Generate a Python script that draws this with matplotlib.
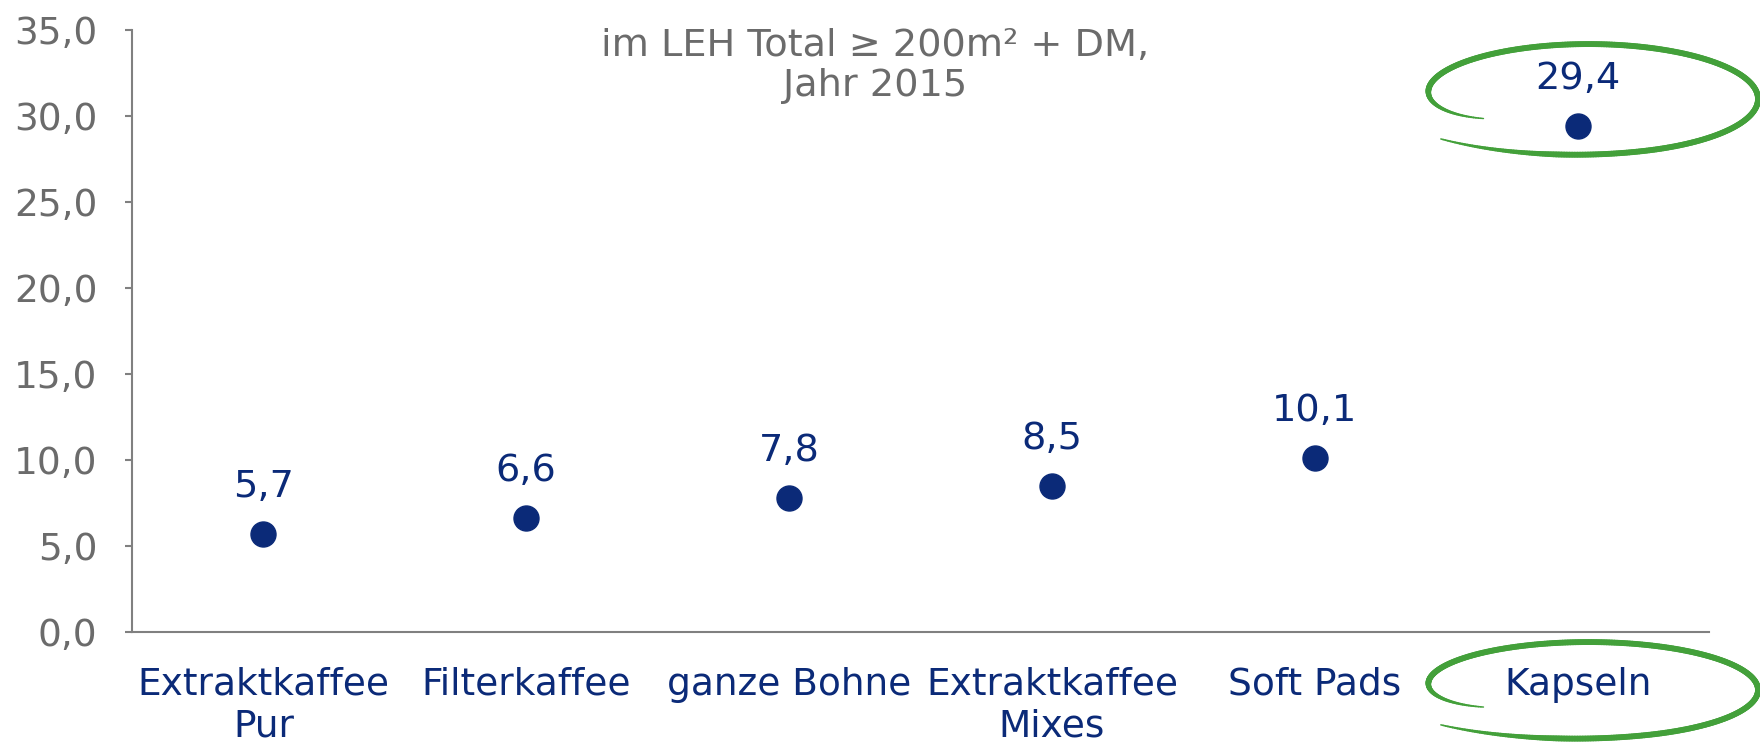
import matplotlib
matplotlib.use('Agg')
import matplotlib.pyplot as plt
import numpy as np
from matplotlib.collections import LineCollection

kategorien = ['Extraktkaffee\nPur', 'Filterkaffee', 'ganze Bohne', 'Extraktkaffee\nMixes', 'Soft Pads', 'Kapseln']
werte = [5.7, 6.6, 7.8, 8.5, 10.1, 29.4]
y_ticks = [0, 5, 10, 15, 20, 25, 30, 35]
untertitel = 'im LEH Total \u2265 200m\u00b2 + DM,\nJahr 2015'

navy = '#0b2a78'
grau = '#6b6b6b'
gruen = '#43a03a'

W, H = 1760, 743
fig = plt.figure(figsize=(W / 100, H / 100), dpi=100)
ax = fig.add_axes([132 / W, 1 - 632 / H, (1709 - 132) / W, (632 - 30) / H])

x = np.arange(len(kategorien))
ax.plot(x, werte, 'o', color=navy, markersize=18, zorder=3)
for xi, v in zip(x, werte):
    ax.annotate(('%.1f' % v).replace('.', ','), (xi, v), xytext=(0, 34),
                textcoords='offset points', ha='center', va='center',
                fontsize=27.5, color=navy)

ax.set_xlim(-0.5, len(kategorien) - 0.5)
ax.set_ylim(0, 35)
ax.set_yticks(y_ticks)
ax.set_yticklabels([('%.1f' % t).replace('.', ',') for t in y_ticks], fontsize=27, color=grau)
ax.set_xticks(x)
ax.set_xticklabels(kategorien, fontsize=27, color=navy, linespacing=1.2)
ax.tick_params(axis='x', length=0, pad=25)
ax.tick_params(axis='y', length=5, width=1.5, color='#808080', pad=20)
for s in ['top', 'right']:
    ax.spines[s].set_visible(False)
for s in ['left', 'bottom']:
    ax.spines[s].set_color('#808080')
    ax.spines[s].set_linewidth(1.5)

fig.text(875 / W, 1 - 66 / H, untertitel, ha='center', va='center',
         fontsize=27.5, color=grau, linespacing=1.12)


# handgezeichnete Kringel um "Kapseln"
def kringel(cx, cy, a, b):
    s = np.linspace(0, 350, 400)
    t = np.deg2rad(210 - s)
    r = 1 - 0.29 * np.exp(-s / 22) + 0.13 * np.clip((s - 280) / 70, 0, 1) ** 2
    px = cx + a * r * np.cos(t)
    py = cy - b * r * np.sin(t)
    pts = np.column_stack([px / W, 1 - py / H])
    segs = np.stack([pts[:-1], pts[1:]], axis=1)
    taper = np.minimum(1, np.minimum(s[:-1] / 40, (350 - s[:-1]) / 40))
    lw = 4.2 * (0.25 + 0.75 * taper)
    lc = LineCollection(segs, linewidths=lw, colors=gruen, transform=fig.transFigure,
                        capstyle='round', clip_on=False)
    fig.add_artist(lc)


kringel(1588, 99, 170, 55)
kringel(1588, 690, 170, 48)

plt.savefig('out.png', dpi=100)
plt.close()
